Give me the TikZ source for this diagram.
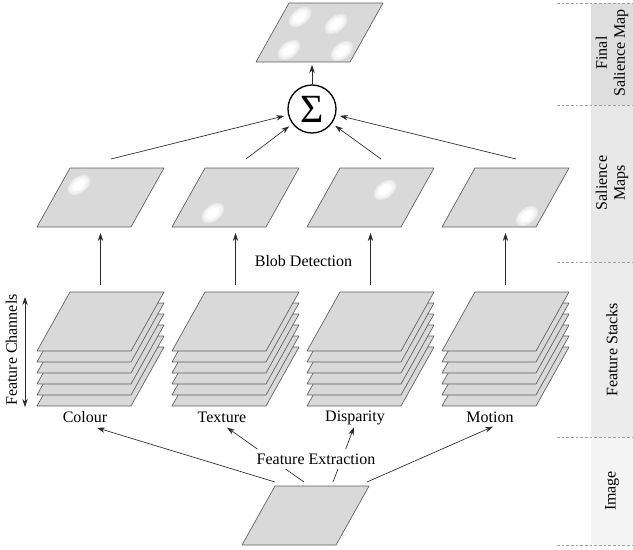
\documentclass[tikz,border=0pt]{standalone}
\usepackage{fontspec}
\setmainfont{Liberation Serif}
\usetikzlibrary{arrows.meta,calc}

\definecolor{mapfill}{HTML}{D9D9D9}
\definecolor{edge}{HTML}{5E5E5E}
\definecolor{ink}{HTML}{2A2A2A}
\definecolor{bandA}{HTML}{DEDEDE}
\definecolor{bandB}{HTML}{E8E8E8}
\definecolor{bandC}{HTML}{ECECEC}
\definecolor{bandD}{HTML}{F4F4F4}

\tikzset{
  sheet/.style={fill=mapfill, draw=edge, line width=0.5pt, line join=round},
  arr/.style={draw=ink, line width=0.5pt, -{Stealth[length=6pt,width=4pt]}},
  dblarr/.style={draw=ink, line width=0.5pt, {Stealth[length=6pt,width=4pt]}-{Stealth[length=6pt,width=4pt]}},
  lbl/.style={font=\fontsize{12}{13.5}\selectfont, text=black},
  bandtext/.style={lbl, rotate=90, align=center},
  sep/.style={draw=gray!75, line width=0.5pt, dash pattern=on 2pt off 1.5pt},
  sumnode/.style={circle, draw=black, line width=1pt, fill=white, minimum size=36pt,
    inner sep=0pt, font=\fontsize{30}{30}\selectfont},
  % a single slanted map
  pics/plate/.style={code={
    \draw[sheet] (0,0) -- (94,0) -- (127,-59) -- (33,-59) -- cycle;
    \coordinate (-s) at (63.5,0);
    \coordinate (-n) at (63.5,-59);
    \coordinate (-out) at (74,-68);
  }},
  % six stacked maps, the top one at the pic origin
  pics/stack/.style={code={
    \foreach \k in {5,4,...,1}
      \draw[sheet] (0,11*\k) -- (94,11*\k) -- (127,11*\k-59) -- (33,11*\k-59) -- cycle;
    \draw[sheet] (0,0) -- (94,0) -- (127,-59) -- (33,-59) -- cycle;
    \coordinate (-n) at (63.5,-59);
  }},
}

% soft white spot on a map
\newcommand\blobat[2]{%
  \begin{scope}[shift={(#1,#2)}, rotate=38]
    \foreach \r in {1.0,0.88,0.76,0.64}
      \fill[white, opacity=0.38] (0,0) ellipse ({13*\r} and {8*\r});
    \fill[white] (0,0) ellipse (7 and 4.2);
  \end{scope}}

\begin{document}
\begin{tikzpicture}[x=0.75pt, y=-0.75pt]
\useasboundingbox (0,0) rectangle (633,550);

% stage bands on the right
\fill[bandA] (591,3) rectangle (633,105);
\fill[bandB] (591,105) rectangle (633,262);
\fill[bandC] (591,262) rectangle (633,437);
\fill[bandD] (591,437) rectangle (633,545);
\foreach \yy in {3,105,262,437,545}
  \draw[sep] (557,\yy) -- (633,\yy);
\node[bandtext] (bfinal) at (612,53) {Final\\Salience Map};
\node[bandtext] (bsal) at (612,183) {Salience\\Maps};
\node[bandtext] (bstack) at (612,350) {Feature Stacks};
\node[bandtext] (bimg) at (612,491) {Image};

% final salience map
\pic (fm) at (256,62) {plate};
\blobat{300}{17}
\blobat{336}{24}
\blobat{289}{50}
\blobat{342}{51}

% summation
\node[sumnode] (sigma) at (312,109) {Σ};
\draw[arr, shorten >=2.2pt] (sigma.north) -- (sigma.north |- fm-s);

% salience maps
\pic (cm) at (37,227) {plate};
\pic (tm) at (172,227) {plate};
\pic (dm) at (307,227) {plate};
\pic (mm) at (442,227) {plate};
\blobat{79}{185}
\blobat{213}{213}
\blobat{385}{190}
\blobat{527}{216}

\foreach \m in {cm,tm,dm,mm}
  \draw[arr, shorten >=3pt] (\m-out) -- (sigma);

% feature stacks
\pic (cs) at (37,351) {stack};
\pic (ts) at (172,351) {stack};
\pic (ds) at (307,351) {stack};
\pic (ms) at (442,351) {stack};

\foreach \s/\m in {cs/cm,ts/tm,ds/dm,ms/mm}
  \draw[arr, shorten <=5.3pt, shorten >=4.5pt] (\s-n) -- (\m-s);

\node[lbl] (blob) at (303.5,261) {Blob Detection};

% channel axis
\coordinate (fc-a) at (25,297);
\coordinate (fc-b) at (25,407);
\draw[dblarr] (fc-a) -- (fc-b);
\node[lbl, rotate=90] (fch) at (11.5,350) {Feature Channels};

% feature names
\node[lbl] (lc) at (85,417.5) {Colour};
\node[lbl] (lt) at (222,417.5) {Texture};
\node[lbl] (ld) at (355,417.5) {Disparity};
\node[lbl] (lm) at (490,417.5) {Motion};

% input image
\pic (img) at (242,545) {plate};
\coordinate (img-1) at (275,482);
\coordinate (img-2) at (304,482);
\coordinate (img-3) at (333,482);
\coordinate (img-4) at (367,482);

\draw[arr] (img-1) -- ($(lc.south)+(12,0)$);
\draw[arr] (img-2) -- ($(lt.south)+(5,0)$);
\draw[arr] (img-3) -- ($(ld.south)+(-1,-2)$);
\draw[arr] (img-4) -- ($(lm.south)+(3,-1)$);

\node[lbl, fill=white, inner sep=3.5pt] (fx) at (316,459) {Feature Extraction};
\end{tikzpicture}
\end{document}
